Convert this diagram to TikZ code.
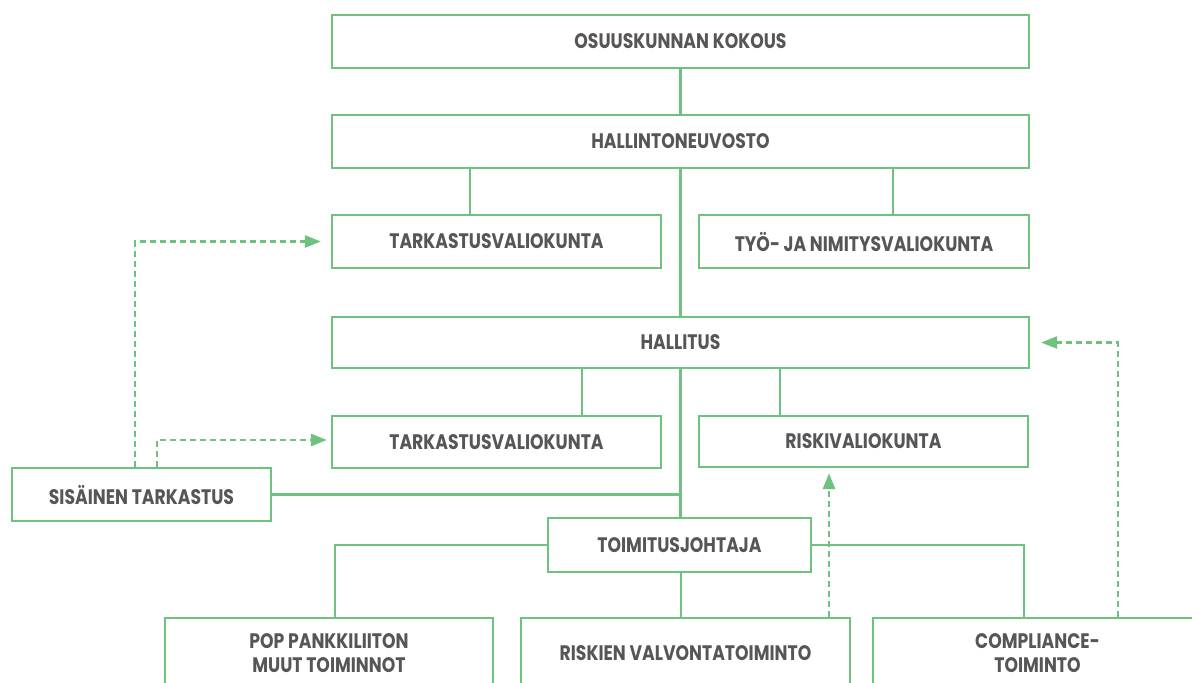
\documentclass[tikz,border=0pt]{standalone}
\usepackage{fontspec}
\setmainfont{Poppins}[FakeStretch=0.82]
\usetikzlibrary{arrows.meta}
\definecolor{lgreen}{RGB}{110,193,126}
\definecolor{tgrey}{RGB}{85,86,88}
\tikzset{
  orgbox/.style={draw=lgreen, line width=2.2pt, inner sep=0pt, align=center,
    text=tgrey, font=\fontsize{21}{24}\selectfont\bfseries},
  topbox/.style={orgbox, line width=2.8pt},
  link/.style={draw=lgreen, line width=2.2pt},
  dlink/.style={draw=lgreen, line width=2.4pt, dash pattern=on 6pt off 4pt,
    -{Triangle[length=16pt,width=12pt]}}
}
\begin{document}
\begin{tikzpicture}[x=1pt,y=-1pt]
\useasboundingbox (0,0) rectangle (1192,683);
\clip (0,0) rectangle (1192,683);
\node[topbox, minimum width=697pt, minimum height=53pt] (k) at (680.5,41.5) {OSUUSKUNNAN KOKOUS};
\node[topbox, minimum width=697pt, minimum height=53pt] (hn) at (680.5,141.5) {HALLINTONEUVOSTO};
\node[orgbox, minimum width=329pt, minimum height=53pt] (t1) at (496.5,241.5) {TARKASTUSVALIOKUNTA};
\node[orgbox, minimum width=330pt, minimum height=53pt] (ty) at (864,241.5) {TYÖ- JA NIMITYSVALIOKUNTA};
\node[orgbox, minimum width=697pt, minimum height=51pt] (h) at (680.5,342.5) {HALLITUS};
\node[orgbox, minimum width=329pt, minimum height=52pt] (t2) at (496.5,442) {TARKASTUSVALIOKUNTA};
\node[orgbox, minimum width=329pt, minimum height=51pt] (r) at (863.5,441.5) {RISKIVALIOKUNTA};
\node[orgbox, minimum width=259pt, minimum height=53pt] (s) at (141.5,494.5) {SISÄINEN TARKASTUS};
\node[orgbox, minimum width=263pt, minimum height=54pt] (tj) at (679.5,545) {TOIMITUSJOHTAJA};
\node[orgbox, minimum width=328pt, minimum height=70pt] (pop) at (329,653) {POP PANKKILIITON\\MUUT TOIMINNOT};
\node[orgbox, minimum width=329pt, minimum height=70pt] (ri) at (685.5,653) {RISKIEN VALVONTATOIMINTO};
\node[orgbox, minimum width=329pt, minimum height=70pt] (co) at (1037.5,653) {COMPLIANCE-\\TOIMINTO};
% solid connectors
\draw[link] (k.south) -- (hn.north);
\draw[link] (hn.south -| 470,0) -- (t1.north -| 470,0);
\draw[link] (hn.south -| 893,0) -- (ty.north -| 893,0);
\draw[link] (hn.south) -- (h.north);
\draw[link] (h.south -| 582,0) -- (t2.north -| 582,0);
\draw[link] (h.south -| 780,0) -- (r.north -| 780,0);
\draw[link] (h.south) -- (h.south |- tj.north);
\draw[link] (s.east) -- (s.east -| h.south);
\draw[link] (tj.west) -| ([xshift=6pt]pop.north);
\draw[link] (tj.east) -| (co.north -| 1024,0);
\draw[link] (tj.south -| 681,0) -- (ri.north -| 681,0);
% dashed arrows
\draw[dlink, shorten >=5pt] (ri.north -| 829,0) -- (r.south -| 829,0);
\draw[dlink, shorten >=11pt] (co.north -| 1118,0) |- (h.east);
\draw[dlink, shorten >=10pt] (s.north -| 135,0) |- (t1.west);
\draw[dlink, shorten >=4pt] (s.north -| 157,0) |- ([yshift=2pt]t2.west);
\end{tikzpicture}
\end{document}
